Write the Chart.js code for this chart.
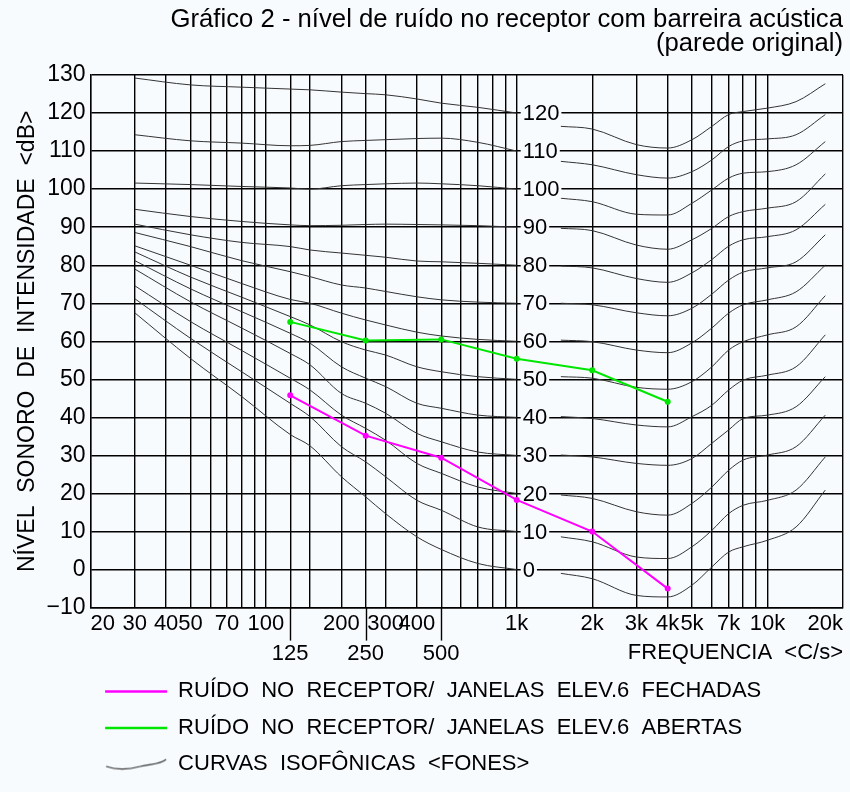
<!DOCTYPE html>
<html>
<head>
<meta charset="utf-8">
<title>Gráfico 2 - nível de ruído no receptor com barreira acústica</title>
<script src="https://cdn.jsdelivr.net/npm/chart.js@4.4.1/dist/chart.umd.min.js"></script>
<style>
  html, body { margin: 0; padding: 0; background: #f8fbfe; }
  canvas { display: block; }
</style>
</head>
<body>
<canvas id="ruidoChart" width="850" height="792"></canvas>
<script>
// Vertical grid lines (Hz)
const gridFreqs = [20, 30, 40, 50, 60, 70, 80, 90, 100, 125, 150, 200, 250, 300, 400, 500,
  600, 700, 800, 900, 1000, 2000, 3000, 4000, 5000, 6000, 7000, 8000, 9000, 10000, 20000];
// Labels on the first row
const labelFreqs = [20, 30, 40, 50, 70, 100, 200, 300, 400, 1000, 2000, 3000, 4000, 5000, 7000, 10000, 20000];
const labelTexts = ['20', '30', '40', '50', '70', '100', '200', '300', '400', '1k', '2k', '3k', '4k', '5k', '7k', '10k', '20k'];
// Octave bands on the second row (with long tick)
const bandFreqs = [125, 250, 500];

// Measured noise at receptor (dB)
const medFreqs = [125, 250, 500, 1000, 2000, 4000];
const ruidoFechadas = [45.8, 35.2, 29.4, 18.3, 10, -5];
const ruidoAbertas = [65.1, 60.2, 60.5, 55.4, 52.4, 44.1];

// Isophonic curves, values read at these frequencies (null = gap behind the 1k labels)
const isoFreqs = [30, 50, 80, 125, 150, 200, 250, 300, 400, 500, 700, 1000, 1250,
  1500, 2000, 3000, 4000, 5000, 6000, 7000, 8000, 10000, 13000, 17000];
const phons = [0, 10, 20, 30, 40, 50, 60, 70, 80, 90, 100, 110, 120];
const fone0 = [67.5, 55.5, 45.5, 35.5, 32.5, 24.4, 19.1, 14.7, 8.6, 5.3, 1.6, 0, null, -1, -2.4, -6.8, -7.2, -4.1, 0.7, 4.6, 6, 7.7, 11.2, 20.9];
const fone10 = [71.2, 60.8, 52, 43.7, 40.2, 32.3, 28.3, 24.4, 18.2, 15.6, 11.2, 10, null, 8.6, 7.3, 3.3, 2.9, 6, 10.3, 14.7, 16.9, 18.2, 20.9, 29.6];
const fone20 = [74.6, 65.2, 57.6, 50.3, 47.2, 40.6, 37.1, 34, 27.9, 25.3, 21.7, 20, null, 19.6, 18.7, 15.2, 14.3, 17.4, 21.7, 26.1, 28.8, 30.1, 32.3, 40.6];
const fone30 = [79, 70.4, 63.5, 56.8, 53.8, 46.3, 43.7, 41.1, 35.8, 33.6, 30.9, 30, null, 30.1, 29.6, 27.9, 27.4, 29.2, 33.2, 36.7, 39.7, 40.6, 42.8, 50.7];
const fone40 = [81.2, 73.8, 67.8, 62.1, 59.5, 53.3, 50.3, 48.1, 43.7, 42.4, 40.6, 40, null, 40.2, 39.7, 38, 37.5, 40.2, 43.2, 47.2, 49.8, 51.1, 53.3, 61.7];
const fone50 = [83.5, 76.9, 71.6, 66.5, 64.3, 59.9, 57.7, 56.4, 53.3, 52, 50.7, 50, null, 50.7, 50.3, 47.9, 47.4, 49.4, 53.3, 57.7, 59.9, 61.7, 63.8, 72];
const fone60 = [85.1, 80, 75.2, 71, 70, 67.4, 65.6, 64.3, 62.4, 61.4, 60.5, 60, null, 60.3, 59.9, 57.7, 57, 59.6, 63.5, 67.4, 69.6, 70.9, 73, 80];
const fone70 = [88.6, 84.9, 81.2, 78.3, 77, 74.8, 74, 73.1, 71.7, 70.9, 70.3, 70, null, 70, 69.6, 67.5, 66.7, 68.7, 72.4, 76.1, 78.2, 79.3, 80.9, 88];
const fone80 = [90.8, 88, 86, 84.9, 84, 83.2, 82.6, 82.1, 81.1, 80.9, 80.5, 80, null, 79.8, 79.3, 76.5, 75.5, 78, 81.5, 85, 86.7, 87.5, 89.3, 96];
const fone90 = [94.7, 92.8, 91.5, 90.6, 90.4, 90.5, 90.7, 90.8, 90.7, 90.6, 90.4, 90, null, 89.7, 89.1, 85.3, 84.2, 86.7, 89.7, 92.8, 94.1, 95, 96.7, 104];
const fone100 = [101.6, 101.2, 100.7, 100.3, 100, 100.9, 101.2, 101.4, 101.6, 101.4, 100.9, 100, null, 97.6, 96.7, 93.4, 93.2, 96.3, 99.8, 102.9, 104.2, 104.6, 106.4, 112.5];
const fone110 = [114.3, 112.7, 112.1, 111.4, 111.5, 112.5, 112.8, 113, 113.3, 113.4, 112.3, 110, null, 107.3, 106.4, 103.8, 102.9, 104.6, 107.7, 111.2, 112.7, 113.2, 114.3, 119.6];
const fone120 = [129.2, 127.4, 126.8, 126.3, 126.1, 125.5, 125.1, 124.8, 123.7, 122.6, 121.5, 120, null, 116.5, 115.8, 111.7, 110.8, 113, 116.5, 119.6, 120.4, 121.3, 123, 127.7];
const isoCurves = [fone0, fone10, fone20, fone30, fone40, fone50, fone60, fone70, fone80, fone90, fone100, fone110, fone120];

const BG = '#f8fbfe';
const FONT = '"Liberation Sans", Arial, sans-serif';

Chart.defaults.font.family = FONT;
Chart.defaults.color = '#000';

function toPoints(freqs, values) {
  return freqs.map((f, i) => ({ x: f, y: values[i] }));
}

// small wavy sample for the isophon legend entry
function ondaIcon() {
  const c = document.createElement('canvas');
  c.width = 62; c.height = 14;
  const g = c.getContext('2d');
  g.strokeStyle = '#333';
  g.lineWidth = 1.2;
  g.beginPath();
  g.moveTo(1, 9);
  g.bezierCurveTo(13, 13, 24, 12, 35, 9);
  g.bezierCurveTo(45, 6, 53, 8, 61, 2);
  g.stroke();
  return c;
}

const datasets = [
  {
    label: 'RUÍDO  NO  RECEPTOR/  JANELAS  ELEV.6  FECHADAS',
    data: toPoints(medFreqs, ruidoFechadas),
    borderColor: '#ff00ff', backgroundColor: '#ff00ff',
    borderWidth: 2, pointRadius: 2, tension: 0
  },
  {
    label: 'RUÍDO  NO  RECEPTOR/  JANELAS  ELEV.6  ABERTAS',
    data: toPoints(medFreqs, ruidoAbertas),
    borderColor: '#00e600', backgroundColor: '#00e600',
    borderWidth: 2, pointRadius: 2, tension: 0
  }
];
isoCurves.forEach((vals, i) => {
  datasets.push({
    label: phons[i] + ' fones',
    data: toPoints(isoFreqs, vals),
    borderColor: '#333', borderWidth: 1,
    pointRadius: 0, cubicInterpolationMode: 'monotone', spanGaps: false
  });
});

// phon labels on the 1 kHz line, drawn after the curves and before the coloured lines
const isoLabels = {
  id: 'isoLabels',
  afterDatasetDraw(chart, args) {
    if (args.index !== 2) return;
    const { ctx, scales: { x, y } } = chart;
    const x0 = x.getPixelForValue(1000) + 6;
    ctx.save();
    ctx.font = '22px ' + FONT;
    ctx.textBaseline = 'middle';
    phons.forEach(p => {
      const py = y.getPixelForValue(p);
      const txt = String(p);
      const w = ctx.measureText(txt).width;
      ctx.fillStyle = BG;
      ctx.fillRect(x0 - 2, py - 9, w + 4, 18);
      ctx.fillStyle = '#000';
      ctx.fillText(txt, x0, py + 1);
    });
    ctx.restore();
  }
};

// long ticks under the octave bands 125 / 250 / 500
const bandTicks = {
  id: 'bandTicks',
  afterDraw(chart) {
    const { ctx, chartArea, scales: { x } } = chart;
    ctx.save();
    ctx.strokeStyle = '#000';
    ctx.lineWidth = 1.4;
    bandFreqs.forEach(f => {
      const px = Math.round(x.getPixelForValue(f)) + 0.5;
      ctx.beginPath();
      ctx.moveTo(px, chartArea.bottom);
      ctx.lineTo(px, chartArea.bottom + 33);
      ctx.stroke();
    });
    ctx.restore();
  }
};

const isLabelled = (v) => labelFreqs.includes(v);

new Chart(document.getElementById('ruidoChart'), {
  type: 'line',
  data: { datasets },
  plugins: [isoLabels, bandTicks],
  options: {
    responsive: false,
    animation: false,
    events: [],
    layout: { padding: { top: 0, right: 7, bottom: 6.6, left: 0 } },
    scales: {
      x: {
        type: 'logarithmic',
        min: 20,
        max: 20000,
        afterBuildTicks: (scale) => { scale.ticks = gridFreqs.map(v => ({ value: v })); },
        ticks: {
          autoSkip: false, maxRotation: 0, minRotation: 0,
          align: 'inner',
          padding: 3.1,
          font: { size: 22 },
          // unlabelled grid lines keep a transparent label so their line is still drawn
          color: (ctx) => (ctx.tick && isLabelled(ctx.tick.value)) ? '#000' : 'rgba(0,0,0,0)',
          callback: (v) => {
            const i = labelFreqs.indexOf(v);
            return i >= 0 ? labelTexts[i] : String(v);
          }
        },
        grid: { color: '#000', lineWidth: 1.4, drawTicks: false },
        border: { color: '#000', width: 1.4 }
      },
      // second row of the frequency axis: octave bands and the axis name
      xBands: {
        type: 'logarithmic',
        position: 'bottom',
        min: 20,
        max: 20000,
        afterBuildTicks: (scale) => { scale.ticks = bandFreqs.map(v => ({ value: v })); },
        ticks: {
          autoSkip: false, maxRotation: 0, minRotation: 0,
          padding: 1,
          font: { size: 22 },
          callback: (v) => String(v)
        },
        grid: { display: false, drawTicks: false },
        border: { display: false },
        title: {
          display: true, text: 'FREQUENCIA  <C/s>', align: 'end',
          font: { size: 22 }, padding: { top: -29.1, bottom: 0 }
        }
      },
      y: {
        min: -10,
        max: 130,
        ticks: {
          stepSize: 10, padding: 5,
          font: { size: 23 },
          callback: (v) => v < 0 ? '\u2212' + Math.abs(v) : String(v)
        },
        grid: { color: '#000', lineWidth: 1.4, drawTicks: false },
        border: { color: '#000', width: 1.4 },
        title: {
          display: true, text: 'NÍVEL  SONORO  DE  INTENSIDADE  <dB>',
          font: { size: 23 }, padding: { top: 14, bottom: 0 }
        }
      }
    },
    plugins: {
      tooltip: { enabled: false },
      title: {
        display: true,
        text: ['Gráfico 2 - nível de ruído no receptor com barreira acústica', '(parede original)'],
        align: 'end',
        color: '#000',
        font: { size: 25.7, weight: 'normal', lineHeight: '24px' },
        padding: { top: 7.5, bottom: 19.5 }
      },
      legend: {
        display: true,
        position: 'bottom',
        align: 'start',
        fullSize: false,
        labels: {
          usePointStyle: true,
          pointStyleWidth: 62,
          padding: 14.5,
          font: { size: 22 },
          color: '#000',
          generateLabels: (chart) => {
            const ds = chart.data.datasets;
            return [
              { text: ds[0].label, pointStyle: 'line', strokeStyle: ds[0].borderColor, fillStyle: ds[0].borderColor, lineWidth: 2.5, hidden: false, datasetIndex: 0 },
              { text: ds[1].label, pointStyle: 'line', strokeStyle: ds[1].borderColor, fillStyle: ds[1].borderColor, lineWidth: 2.5, hidden: false, datasetIndex: 1 },
              { text: 'CURVAS  ISOFÔNICAS  <FONES>', pointStyle: ondaIcon(), strokeStyle: '#333', fillStyle: '#333', lineWidth: 1, hidden: false, datasetIndex: 2 }
            ];
          }
        }
      }
    }
  }
});
</script>
</body>
</html>
